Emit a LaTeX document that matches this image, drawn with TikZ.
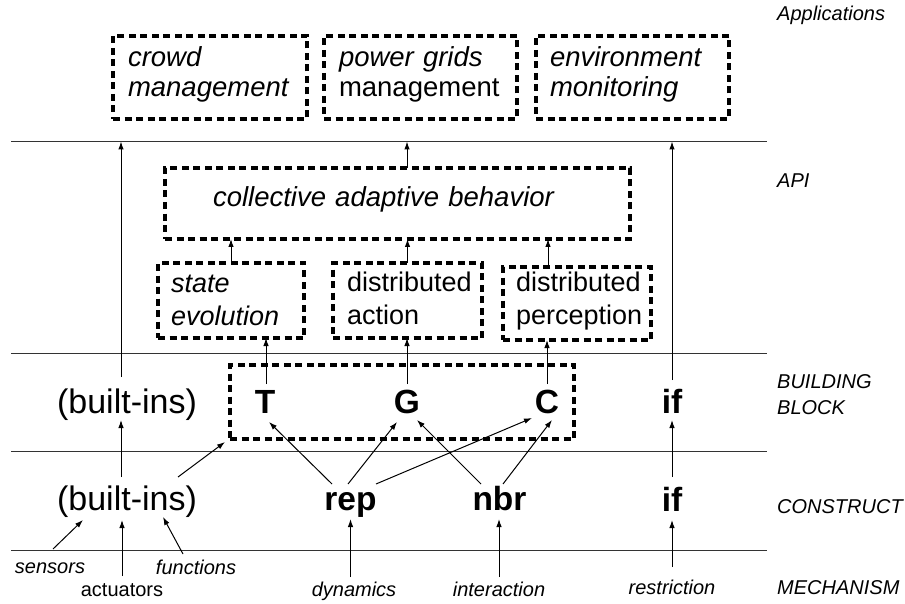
\documentclass[tikz,border=0pt]{standalone}
\usepackage{fontspec}
\setmainfont{Liberation Sans}
\usetikzlibrary{arrows.meta,calc}
\begin{document}
\begin{tikzpicture}[x=1pt,y=-1pt,
  dbox/.style={draw, line width=3.2pt, dash pattern=on 7pt off 4.5pt, inner ysep=0pt, outer sep=0pt, align=left, anchor=north west},
  hline/.style={line width=1pt, draw=black!80},
  arr/.style={line width=1pt, -{Latex[length=8pt,width=5.5pt]}},
  apptxt/.style={font=\fontsize{27.5}{30}\selectfont},
  subtxt/.style={font=\fontsize{27}{33}\selectfont},
  big/.style={font=\fontsize{34}{40}\selectfont, anchor=base, inner sep=0pt, outer sep=0pt},
  bld/.style={font=\bfseries\fontsize{33.5}{40}\selectfont, anchor=base, inner sep=0pt, outer sep=0pt},
  mech/.style={font=\itshape\fontsize{20}{24}\selectfont, anchor=base, inner sep=0pt, outer sep=0pt, text height=18pt, text depth=5pt},
  layer/.style={font=\itshape\fontsize{20}{24}\selectfont, anchor=base west, inner sep=0pt}
]
\useasboundingbox (0,0) rectangle (905,604);

% layer lines
\coordinate (l1w) at (11,141.5); \coordinate (l1e) at (767,141.5);
\coordinate (l2w) at (11,353);   \coordinate (l2e) at (767,353);
\coordinate (l3w) at (11,451);   \coordinate (l3e) at (767,451);
\coordinate (l4w) at (11,550);   \coordinate (l4e) at (767,550);
\draw[hline] (l1w) -- (l1e);
\draw[hline] (l2w) -- (l2e);
\draw[hline] (l3w) -- (l3e);
\draw[hline] (l4w) -- (l4e);

% layer names
\node[layer] (lapp) at (777,21) {Applications};
\node[layer] (lapi) at (777,188) {API};
\node[layer] (lbb1) at (777,388) {BUILDING};
\node[layer] (lbb2) at (777,414) {BLOCK};
\node[layer] (lcon) at (777,513) {CONSTRUCT};
\node[layer] (lmec) at (777,594) {MECHANISM};

% applications
\node[dbox, apptxt, text width=164pt, inner xsep=15pt, text height=31pt, text depth=52pt] (crowd) at (113,36) {\itshape crowd\\management};
\node[dbox, apptxt, text width=163pt, inner xsep=15pt, text height=31pt, text depth=52pt] (power) at (324,36) {{\itshape power grids}\\management};
\node[dbox, apptxt, text width=165pt, inner xsep=14pt, text height=31pt, text depth=52pt] (env) at (536,36) {\itshape environment\\monitoring};

% API
\node[dbox, apptxt, text width=369pt, inner xsep=48pt, text height=39pt, text depth=32pt] (coll) at (165,168) {\itshape collective adaptive behavior};
\node[dbox, subtxt, text width=120pt, inner xsep=13pt, text height=29pt, text depth=46pt] (state) at (158,263) {\itshape state\\evolution};
\node[dbox, subtxt, text width=121pt, inner xsep=14pt, text height=28pt, text depth=47pt] (act) at (333,263) {distributed\\action};
\node[dbox, subtxt, text width=122pt, inner xsep=13pt, text height=24pt, text depth=49pt] (perc) at (503,267) {distributed\\perception};

% building blocks
\node[dbox, minimum width=344pt, minimum height=74pt, inner sep=0pt, text height=0pt, text depth=0pt] (bb) at (230,365) {};
\node[big, text height=36pt, text depth=7pt] (bib) at (127,413) {(built-ins)};
\node[bld, text height=29pt, text depth=9pt] (T) at (265,413) {T};
\node[bld, text height=29pt, text depth=9pt] (G) at (407,413) {G};
\node[bld, text height=29pt, text depth=9pt] (C) at (547,413) {C};
\node[bld, text height=33pt, text depth=7pt] (ifb) at (672,413) {if};

% constructs
\node[big, text height=33pt, text depth=10pt] (bic) at (127,510) {(built-ins)};
\node[bld, text height=26pt, text depth=9pt] (rep) at (350.5,510) {rep};
\node[bld, text height=26pt, text depth=9pt] (nbr) at (499.5,510) {nbr};
\node[bld, text height=34pt, text depth=9pt] (ifc) at (672,511) {if};

% mechanisms
\node[mech] (sens) at (50,573) {sensors};
\node[mech] (fun) at (196,574) {functions};
\node[mech, font=\fontsize{20}{24}\selectfont] (actu) at (122,596) {actuators};
\node[mech] (dyn) at (354,596) {dynamics};
\node[mech] (inter) at (499,596) {interaction};
\node[mech] (res) at (672,594) {restriction};

% arrows to applications layer
\draw[arr] ([xshift=-6pt]bib.north) -- ([xshift=-6pt]bib.north |- l1w);
\draw[arr] (ifb.north) -- (ifb.north |- l1w);
\draw[arr] ([xshift=9.5pt]coll.north) -- ([xshift=9.5pt]coll.north |- l1w);

% API internal
\draw[arr] (state.north) -- (state.north |- coll.south);
\draw[arr] (act.north) -- (act.north |- coll.south);
\draw[arr] ([xshift=-29pt]perc.north) -- ([xshift=-29pt]perc.north |- coll.south);

% building blocks to API
\draw[arr] ([xshift=1pt]T.north) -- ([xshift=1pt]T.north |- state.south);
\draw[arr] (G.north) -- (G.north |- act.south);
\draw[arr] (C.north) -- (C.north |- perc.south);

% constructs to building blocks
\draw[arr] ([xshift=-6pt]bic.north) -- ([xshift=-6pt]bib.south);
\draw[arr] ([xshift=51pt]bic.north) -- ([xshift=-5pt,yshift=-3pt]bb.south west);
\draw[arr] (ifc.north) -- (ifb.south);
\draw[arr] ([xshift=-18.5pt]rep.north) -- ([xshift=4pt]T.south);
\draw[arr] ([xshift=-2.5pt]rep.north) -- ([xshift=-10pt]G.south);
\draw[arr] ([xshift=25.5pt]rep.north) -- ([xshift=-15pt,yshift=4pt]C.south);
\draw[arr] ([xshift=-18.5pt]nbr.north) -- ([xshift=10pt,yshift=2pt]G.south);
\draw[arr] ([xshift=3.5pt]nbr.north) -- ([xshift=5pt,yshift=2pt]C.south);

% mechanisms to constructs
\draw[arr] ([xshift=3pt,yshift=6pt]sens.north) -- ([xshift=-44pt]bic.south);
\draw[arr] ([yshift=2pt]actu.north) -- ([xshift=-5pt]bic.south);
\draw[arr] ([xshift=-13pt,yshift=2pt]fun.north) -- ([xshift=36pt,yshift=3pt]bic.south);
\draw[arr] ([yshift=1pt]dyn.north -| rep.south) -- (rep.south);
\draw[arr] ([yshift=1pt]inter.north) -- (inter.north |- nbr.south);
\draw[arr] ([yshift=9pt]res.north) -- (ifc.south);
\end{tikzpicture}
\end{document}
